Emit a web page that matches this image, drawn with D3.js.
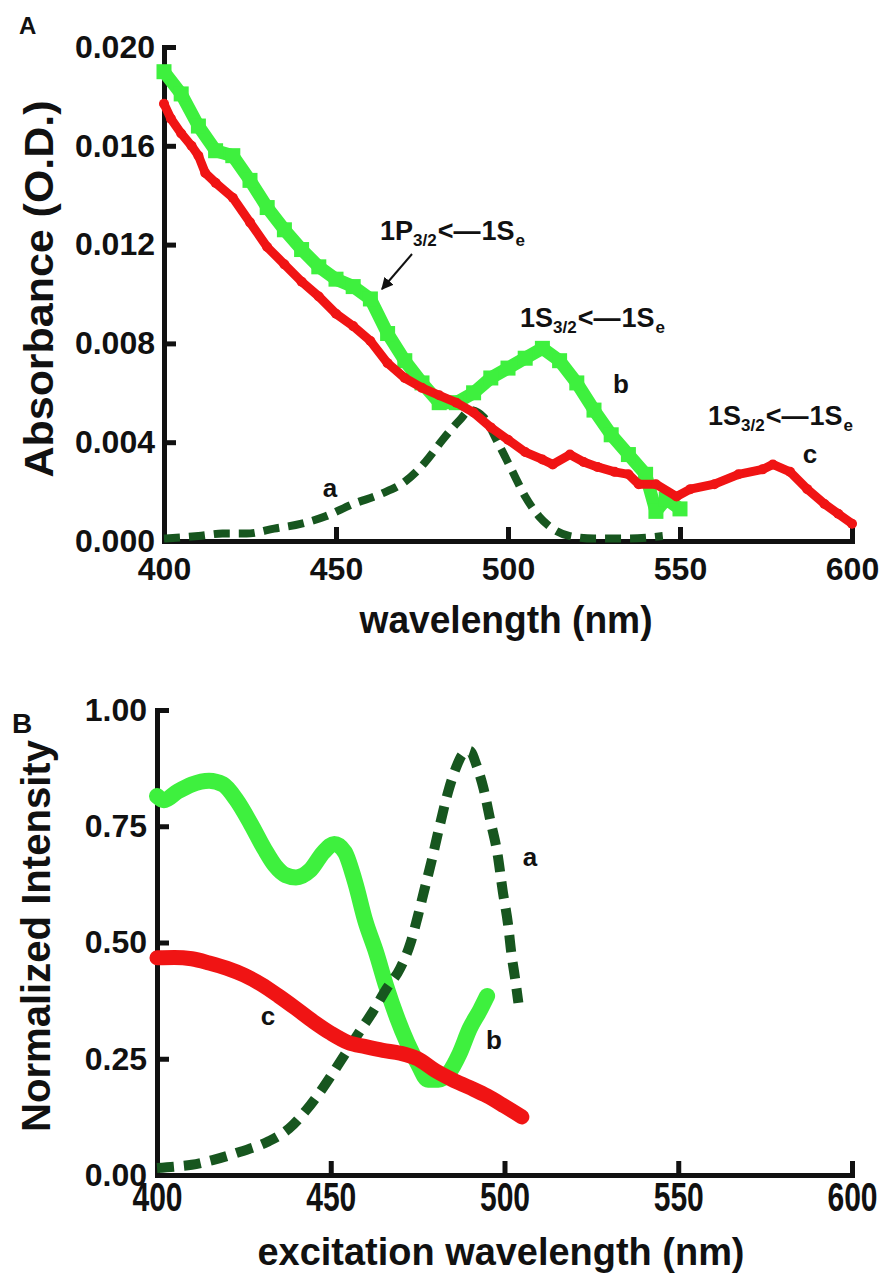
<!DOCTYPE html>
<html>
<head>
<meta charset="utf-8">
<script src="https://cdn.jsdelivr.net/npm/d3@7"></script>
<style>
  body { margin: 0; background: #fff; }
</style>
</head>
<body>
<svg id="chart" width="880" height="1274"></svg>
<script>
// tick values
var wlTicks = [400, 450, 500, 550, 600];
var absTicks = [0, 0.004, 0.008, 0.012, 0.016, 0.020];
var intTicks = [0, 0.25, 0.5, 0.75, 1];

// panel A - absorbance
var aGreenWl = [400, 405, 410, 415, 420, 425, 430, 435, 440, 445, 450, 455, 460, 465, 470, 475, 480, 485, 490, 495, 500, 505, 510, 515, 520, 525, 530, 535, 540, 543, 546, 550];
var aGreenAbs = [0.0190, 0.0181, 0.0168, 0.0158, 0.0156, 0.0146, 0.0135, 0.0126, 0.0118, 0.0111, 0.0106, 0.0103, 0.0098, 0.0084, 0.0073, 0.0064, 0.0056, 0.0056, 0.0060, 0.0066, 0.0070, 0.0074, 0.0078, 0.0073, 0.0064, 0.0053, 0.0043, 0.0035, 0.0027, 0.0012, 0.0017, 0.0013];

var aRedWl = [400, 402, 405, 408, 410, 412, 415, 420, 425, 430, 435, 440, 445, 450, 455, 460, 465, 470, 475, 480, 485, 490, 495, 500, 505, 510, 513, 518, 522, 526, 531, 535, 538, 543, 549, 553, 560, 567, 574, 577, 582, 587, 592, 596, 600];
var aRedAbs = [0.0177, 0.0171, 0.0165, 0.0160, 0.0156, 0.0149, 0.0145, 0.0139, 0.0129, 0.0119, 0.0112, 0.0105, 0.0099, 0.0092, 0.0087, 0.0081, 0.0072, 0.0066, 0.0062, 0.0059, 0.0056, 0.0052, 0.0046, 0.0041, 0.0036, 0.0033, 0.0031, 0.0035, 0.0032, 0.0030, 0.0028, 0.0027, 0.0023, 0.0023, 0.0018, 0.0021, 0.0023, 0.0027, 0.0029, 0.0031, 0.0028, 0.0021, 0.0015, 0.0011, 0.0007];

var aDashWl = [400, 410, 417, 424, 432, 440, 447, 455, 463, 470, 476, 481, 486, 489, 493, 497, 501, 505, 509, 513, 518, 525, 535, 545];
var aDashAbs = [0.0001, 0.0002, 0.0003, 0.0003, 0.0005, 0.0007, 0.0010, 0.0015, 0.0019, 0.0024, 0.0032, 0.0041, 0.0049, 0.0053, 0.0050, 0.0040, 0.0029, 0.0018, 0.0010, 0.0005, 0.0002, 0.0001, 0.0001, 0.0002];

// panel B - normalized excitation
var bGreenWl = [400, 402, 406, 410, 415, 419, 423, 427, 431, 434, 437, 440, 444, 448, 451, 454, 457, 460, 463, 466, 469, 472, 475, 478, 481, 484, 487, 490, 493, 495];
var bGreenInt = [0.815, 0.806, 0.825, 0.840, 0.848, 0.840, 0.805, 0.755, 0.700, 0.665, 0.645, 0.640, 0.655, 0.695, 0.712, 0.695, 0.630, 0.545, 0.480, 0.405, 0.340, 0.285, 0.240, 0.205, 0.205, 0.220, 0.260, 0.315, 0.355, 0.385];

var bRedWl = [400, 405, 410, 415, 420, 425, 430, 435, 440, 445, 450, 455, 460, 465, 470, 475, 480, 485, 490, 495, 500, 505];
var bRedInt = [0.467, 0.468, 0.465, 0.456, 0.445, 0.430, 0.410, 0.385, 0.358, 0.330, 0.305, 0.285, 0.276, 0.268, 0.262, 0.250, 0.225, 0.205, 0.188, 0.170, 0.148, 0.125];

var bDashWl = [400, 405, 410, 416, 424, 432, 438, 443, 448, 453, 458, 462, 466, 470, 473, 475, 477, 479, 481, 484, 486, 488, 490, 492, 494, 496, 498, 499.5, 501, 502, 503, 504];
var bDashInt = [0.015, 0.018, 0.022, 0.032, 0.050, 0.072, 0.100, 0.140, 0.190, 0.247, 0.305, 0.350, 0.400, 0.445, 0.500, 0.555, 0.615, 0.675, 0.740, 0.830, 0.875, 0.905, 0.912, 0.880, 0.830, 0.760, 0.690, 0.610, 0.540, 0.475, 0.425, 0.370];

var font = "'Liberation Sans', Arial, sans-serif";
var green = "#3ef03e", red = "#f01414", dark = "#17561f", ink = "#111";

var svg = d3.select("#chart");

var xA = d3.scaleLinear().domain([400, 600]).range([164, 852]);
var yA = d3.scaleLinear().domain([0, 0.020]).range([541, 47]);
var xB = d3.scaleLinear().domain([400, 600]).range([157, 852]);
var yB = d3.scaleLinear().domain([0, 1]).range([1175, 710]);

svg.append("defs").append("marker")
    .attr("id", "head")
    .attr("viewBox", "0 0 10 10")
    .attr("refX", 9).attr("refY", 5)
    .attr("markerWidth", 6).attr("markerHeight", 6)
    .attr("orient", "auto")
  .append("path")
    .attr("d", "M0,0L10,5L0,10z")
    .attr("fill", ink);

// axes with inward ticks, heavy lines
function axes(x, y, yTicks, yFmt, xPad, yPad) {
  var gx = svg.append("g")
      .attr("transform", "translate(0," + y.range()[0] + ")")
      .call(d3.axisBottom(x).tickValues(wlTicks).tickSizeInner(-14).tickSizeOuter(0).tickPadding(xPad));
  var gy = svg.append("g")
      .attr("transform", "translate(" + x.range()[0] + ",0)")
      .call(d3.axisLeft(y).tickValues(yTicks).tickFormat(d3.format(yFmt)).tickSizeInner(-12).tickSizeOuter(0).tickPadding(yPad));
  [gx, gy].forEach(function(g) {
    g.select(".domain").attr("stroke", ink).attr("stroke-width", 5).attr("stroke-linecap", "square");
    g.selectAll(".tick line").attr("stroke", ink).attr("stroke-width", 5);
    g.selectAll(".tick text")
      .attr("font-family", font)
      .attr("font-size", 32)
      .attr("font-weight", "bold")
      .attr("fill", ink);
  });
  return gx;
}

function series(wl, val) {
  return d3.zip(wl, val);
}

function drawLine(pts, x, y, color, width, curve, dash) {
  var line = d3.line().x(function(d) { return x(d[0]); }).y(function(d) { return y(d[1]); }).curve(curve);
  var p = svg.append("path")
      .datum(pts)
      .attr("d", line)
      .attr("fill", "none")
      .attr("stroke", color)
      .attr("stroke-width", width)
      .attr("stroke-linejoin", "round")
      .attr("stroke-linecap", dash ? "butt" : "round");
  if (dash) p.attr("stroke-dasharray", dash);
  return p;
}

function label(txt, x, y, size) {
  svg.append("text")
      .attr("x", x).attr("y", y)
      .attr("text-anchor", "middle")
      .attr("font-family", font)
      .attr("font-weight", "bold")
      .attr("font-size", size || 26)
      .attr("fill", ink)
      .text(txt);
}

// transition label like 1S3/2<-1Se
function transition(x, y, first) {
  var t = svg.append("text")
      .attr("x", x).attr("y", y)
      .attr("font-family", font)
      .attr("font-weight", "bold")
      .attr("font-size", 27)
      .attr("fill", ink);
  t.append("tspan").text(first);
  t.append("tspan").attr("font-size", 17).attr("dy", 6).text("3/2");
  t.append("tspan").attr("dy", -6).attr("dx", 1).text("<\u2014");
  t.append("tspan").attr("dx", 1).text("1S");
  t.append("tspan").attr("font-size", 17).attr("dy", 6).attr("dx", 1).text("e");
}

// ---------- Panel A ----------
axes(xA, yA, absTicks, ".3f", 16, 9);

var aGreen = series(aGreenWl, aGreenAbs);
drawLine(aGreen, xA, yA, green, 13, d3.curveLinear);
svg.append("g").selectAll("rect")
    .data(aGreen)
  .enter().append("rect")
    .attr("x", function(d) { return xA(d[0]) - 7.5; })
    .attr("y", function(d) { return yA(d[1]) - 7.5; })
    .attr("width", 15).attr("height", 15)
    .attr("fill", green);

drawLine(series(aDashWl, aDashAbs), xA, yA, dark, 8, d3.curveMonotoneX, "16,9");

var aRed = series(aRedWl, aRedAbs);
drawLine(aRed, xA, yA, red, 9, d3.curveLinear);
svg.append("g").selectAll("circle")
    .data(aRed)
  .enter().append("circle")
    .attr("cx", function(d) { return xA(d[0]); })
    .attr("cy", function(d) { return yA(d[1]); })
    .attr("r", 5)
    .attr("fill", red);

label("a", 330, 497);
label("b", 621, 393);
label("c", 810, 463);
transition(380, 240, "1P");
transition(520, 327, "1S");
transition(708, 425, "1S");

svg.append("line")
    .attr("x1", 412).attr("y1", 254)
    .attr("x2", 382).attr("y2", 289)
    .attr("stroke", ink)
    .attr("stroke-width", 2)
    .attr("marker-end", "url(#head)");

svg.append("text")
    .attr("x", 19).attr("y", 34)
    .attr("font-family", font).attr("font-weight", "bold").attr("font-size", 24)
    .attr("fill", ink).text("A");

svg.append("text")
    .attr("transform", "translate(53,289) rotate(-90)")
    .attr("text-anchor", "middle")
    .attr("font-family", font).attr("font-weight", "bold").attr("font-size", 41)
    .attr("textLength", 377).attr("lengthAdjust", "spacingAndGlyphs")
    .attr("fill", ink).text("Absorbance (O.D.)");

svg.append("text")
    .attr("x", 506).attr("y", 633)
    .attr("text-anchor", "middle")
    .attr("font-family", font).attr("font-weight", "bold").attr("font-size", 38)
    .attr("textLength", 293).attr("lengthAdjust", "spacingAndGlyphs")
    .attr("fill", ink).text("wavelength (nm)");

// ---------- Panel B ----------
var gxB = axes(xB, yB, intTicks, ".2f", 6.4, 10);
gxB.selectAll(".tick text").attr("transform", "scale(0.94,1.25)");

drawLine(series(bGreenWl, bGreenInt), xB, yB, green, 16, d3.curveMonotoneX);
drawLine(series(bDashWl, bDashInt), xB, yB, dark, 10, d3.curveMonotoneX, "17,10");
drawLine(series(bRedWl, bRedInt), xB, yB, red, 15, d3.curveMonotoneX);

label("a", 530, 866);
label("b", 494, 1049);
label("c", 268, 1025);

svg.append("text")
    .attr("x", 12).attr("y", 733)
    .attr("font-family", font).attr("font-weight", "bold").attr("font-size", 28)
    .attr("fill", ink).text("B");

svg.append("text")
    .attr("transform", "translate(50,936) rotate(-90)")
    .attr("text-anchor", "middle")
    .attr("font-family", font).attr("font-weight", "bold").attr("font-size", 40)
    .attr("textLength", 392).attr("lengthAdjust", "spacingAndGlyphs")
    .attr("fill", ink).text("Normalized Intensity");

svg.append("text")
    .attr("x", 501).attr("y", 1265)
    .attr("text-anchor", "middle")
    .attr("font-family", font).attr("font-weight", "bold").attr("font-size", 38)
    .attr("textLength", 487).attr("lengthAdjust", "spacingAndGlyphs")
    .attr("fill", ink).text("excitation wavelength (nm)");
</script>
</body>
</html>
